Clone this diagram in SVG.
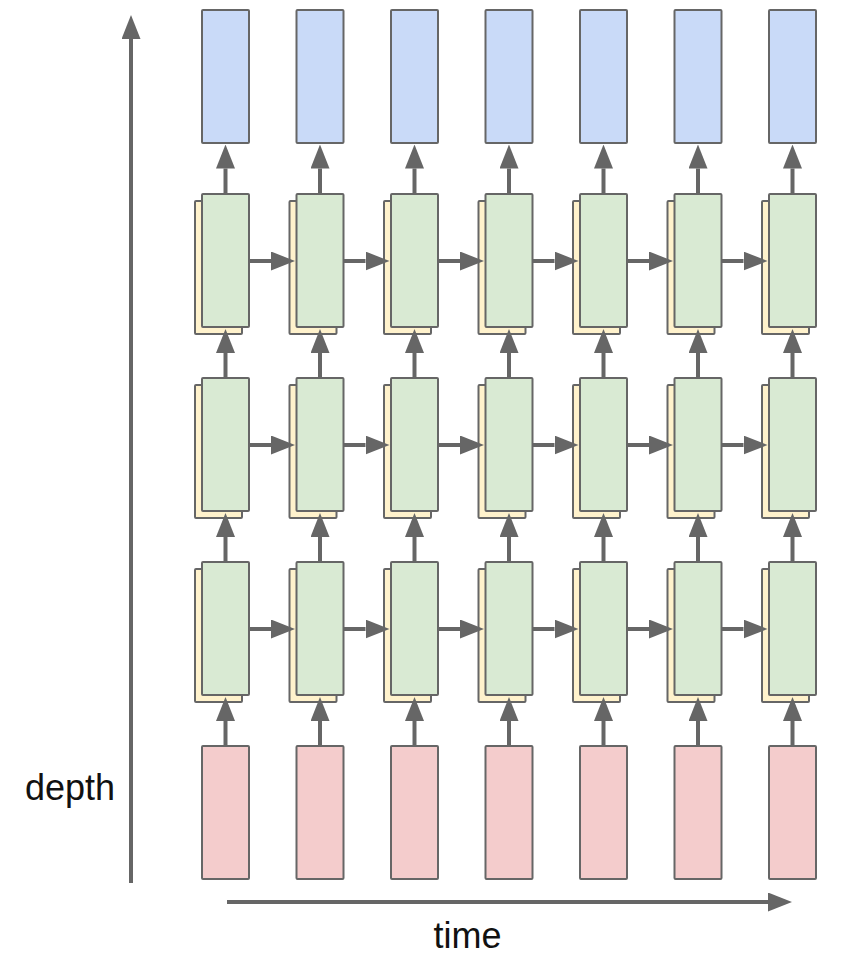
<svg xmlns="http://www.w3.org/2000/svg" width="846" height="976" viewBox="0 0 846 976">
<style>
.n{stroke:#666666;stroke-width:2}
.b{fill:#c9daf8}
.g{fill:#d9ead3}
.y{fill:#fff2cc}
.p{fill:#f4cccc}
.c{fill:none;stroke:#666666;stroke-width:4;marker-end:url(#ah)}
.t{font-family:"Liberation Sans",Arial,sans-serif;font-size:36px;fill:#111111}
</style>
<defs>
<marker id="ah" markerUnits="userSpaceOnUse" markerWidth="24" markerHeight="19" refX="0" refY="9.5" orient="auto" viewBox="0 0 24 19">
<path d="M0,0 L24,9.5 L0,19 z" fill="#666666"/>
</marker>
<rect id="R" width="47" height="133" rx="1"/>
</defs>
<rect width="846" height="976" fill="#ffffff"/>

<g id="nodes">
<g id="out0"><use href="#R" x="202" y="10" class="n b"/></g>
<g id="out1"><use href="#R" x="296.5" y="10" class="n b"/></g>
<g id="out2"><use href="#R" x="391" y="10" class="n b"/></g>
<g id="out3"><use href="#R" x="485.5" y="10" class="n b"/></g>
<g id="out4"><use href="#R" x="580" y="10" class="n b"/></g>
<g id="out5"><use href="#R" x="674.5" y="10" class="n b"/></g>
<g id="out6"><use href="#R" x="769" y="10" class="n b"/></g>

<g id="h1_0"><use href="#R" x="195" y="201" class="n y"/><use href="#R" x="202" y="194" class="n g"/></g>
<g id="h1_1"><use href="#R" x="289.5" y="201" class="n y"/><use href="#R" x="296.5" y="194" class="n g"/></g>
<g id="h1_2"><use href="#R" x="384" y="201" class="n y"/><use href="#R" x="391" y="194" class="n g"/></g>
<g id="h1_3"><use href="#R" x="478.5" y="201" class="n y"/><use href="#R" x="485.5" y="194" class="n g"/></g>
<g id="h1_4"><use href="#R" x="573" y="201" class="n y"/><use href="#R" x="580" y="194" class="n g"/></g>
<g id="h1_5"><use href="#R" x="667.5" y="201" class="n y"/><use href="#R" x="674.5" y="194" class="n g"/></g>
<g id="h1_6"><use href="#R" x="762" y="201" class="n y"/><use href="#R" x="769" y="194" class="n g"/></g>

<g id="h2_0"><use href="#R" x="195" y="385" class="n y"/><use href="#R" x="202" y="378" class="n g"/></g>
<g id="h2_1"><use href="#R" x="289.5" y="385" class="n y"/><use href="#R" x="296.5" y="378" class="n g"/></g>
<g id="h2_2"><use href="#R" x="384" y="385" class="n y"/><use href="#R" x="391" y="378" class="n g"/></g>
<g id="h2_3"><use href="#R" x="478.5" y="385" class="n y"/><use href="#R" x="485.5" y="378" class="n g"/></g>
<g id="h2_4"><use href="#R" x="573" y="385" class="n y"/><use href="#R" x="580" y="378" class="n g"/></g>
<g id="h2_5"><use href="#R" x="667.5" y="385" class="n y"/><use href="#R" x="674.5" y="378" class="n g"/></g>
<g id="h2_6"><use href="#R" x="762" y="385" class="n y"/><use href="#R" x="769" y="378" class="n g"/></g>

<g id="h3_0"><use href="#R" x="195" y="569" class="n y"/><use href="#R" x="202" y="562" class="n g"/></g>
<g id="h3_1"><use href="#R" x="289.5" y="569" class="n y"/><use href="#R" x="296.5" y="562" class="n g"/></g>
<g id="h3_2"><use href="#R" x="384" y="569" class="n y"/><use href="#R" x="391" y="562" class="n g"/></g>
<g id="h3_3"><use href="#R" x="478.5" y="569" class="n y"/><use href="#R" x="485.5" y="562" class="n g"/></g>
<g id="h3_4"><use href="#R" x="573" y="569" class="n y"/><use href="#R" x="580" y="562" class="n g"/></g>
<g id="h3_5"><use href="#R" x="667.5" y="569" class="n y"/><use href="#R" x="674.5" y="562" class="n g"/></g>
<g id="h3_6"><use href="#R" x="762" y="569" class="n y"/><use href="#R" x="769" y="562" class="n g"/></g>

<g id="in0"><use href="#R" x="202" y="746" class="n p"/></g>
<g id="in1"><use href="#R" x="296.5" y="746" class="n p"/></g>
<g id="in2"><use href="#R" x="391" y="746" class="n p"/></g>
<g id="in3"><use href="#R" x="485.5" y="746" class="n p"/></g>
<g id="in4"><use href="#R" x="580" y="746" class="n p"/></g>
<g id="in5"><use href="#R" x="674.5" y="746" class="n p"/></g>
<g id="in6"><use href="#R" x="769" y="746" class="n p"/></g>
</g>

<g id="connectors">
<path class="c" d="M225.5,194V168.5"/><path class="c" d="M320,194V168.5"/><path class="c" d="M414.5,194V168.5"/><path class="c" d="M509,194V168.5"/><path class="c" d="M603.5,194V168.5"/><path class="c" d="M698,194V168.5"/><path class="c" d="M792.5,194V168.5"/>
<path class="c" d="M225.5,378V353"/><path class="c" d="M320,378V353"/><path class="c" d="M414.5,378V353"/><path class="c" d="M509,378V353"/><path class="c" d="M603.5,378V353"/><path class="c" d="M698,378V353"/><path class="c" d="M792.5,378V353"/>
<path class="c" d="M225.5,562V537"/><path class="c" d="M320,562V537"/><path class="c" d="M414.5,562V537"/><path class="c" d="M509,562V537"/><path class="c" d="M603.5,562V537"/><path class="c" d="M698,562V537"/><path class="c" d="M792.5,562V537"/>
<path class="c" d="M225.5,746V721"/><path class="c" d="M320,746V721"/><path class="c" d="M414.5,746V721"/><path class="c" d="M509,746V721"/><path class="c" d="M603.5,746V721"/><path class="c" d="M698,746V721"/><path class="c" d="M792.5,746V721"/>

<path class="c" d="M249,261H271"/><path class="c" d="M343.5,261H365.5"/><path class="c" d="M438,261H460"/><path class="c" d="M532.5,261H554.5"/><path class="c" d="M627,261H649"/><path class="c" d="M721.5,261H743.5"/>
<path class="c" d="M249,445H271"/><path class="c" d="M343.5,445H365.5"/><path class="c" d="M438,445H460"/><path class="c" d="M532.5,445H554.5"/><path class="c" d="M627,445H649"/><path class="c" d="M721.5,445H743.5"/>
<path class="c" d="M249,629H271"/><path class="c" d="M343.5,629H365.5"/><path class="c" d="M438,629H460"/><path class="c" d="M532.5,629H554.5"/><path class="c" d="M627,629H649"/><path class="c" d="M721.5,629H743.5"/>

<path class="c" d="M131,883V39"/>
<path class="c" d="M227,902H768"/>
</g>

<text class="t" x="25" y="800">depth</text>
<text class="t" x="467.5" y="948" text-anchor="middle">time</text>
</svg>
